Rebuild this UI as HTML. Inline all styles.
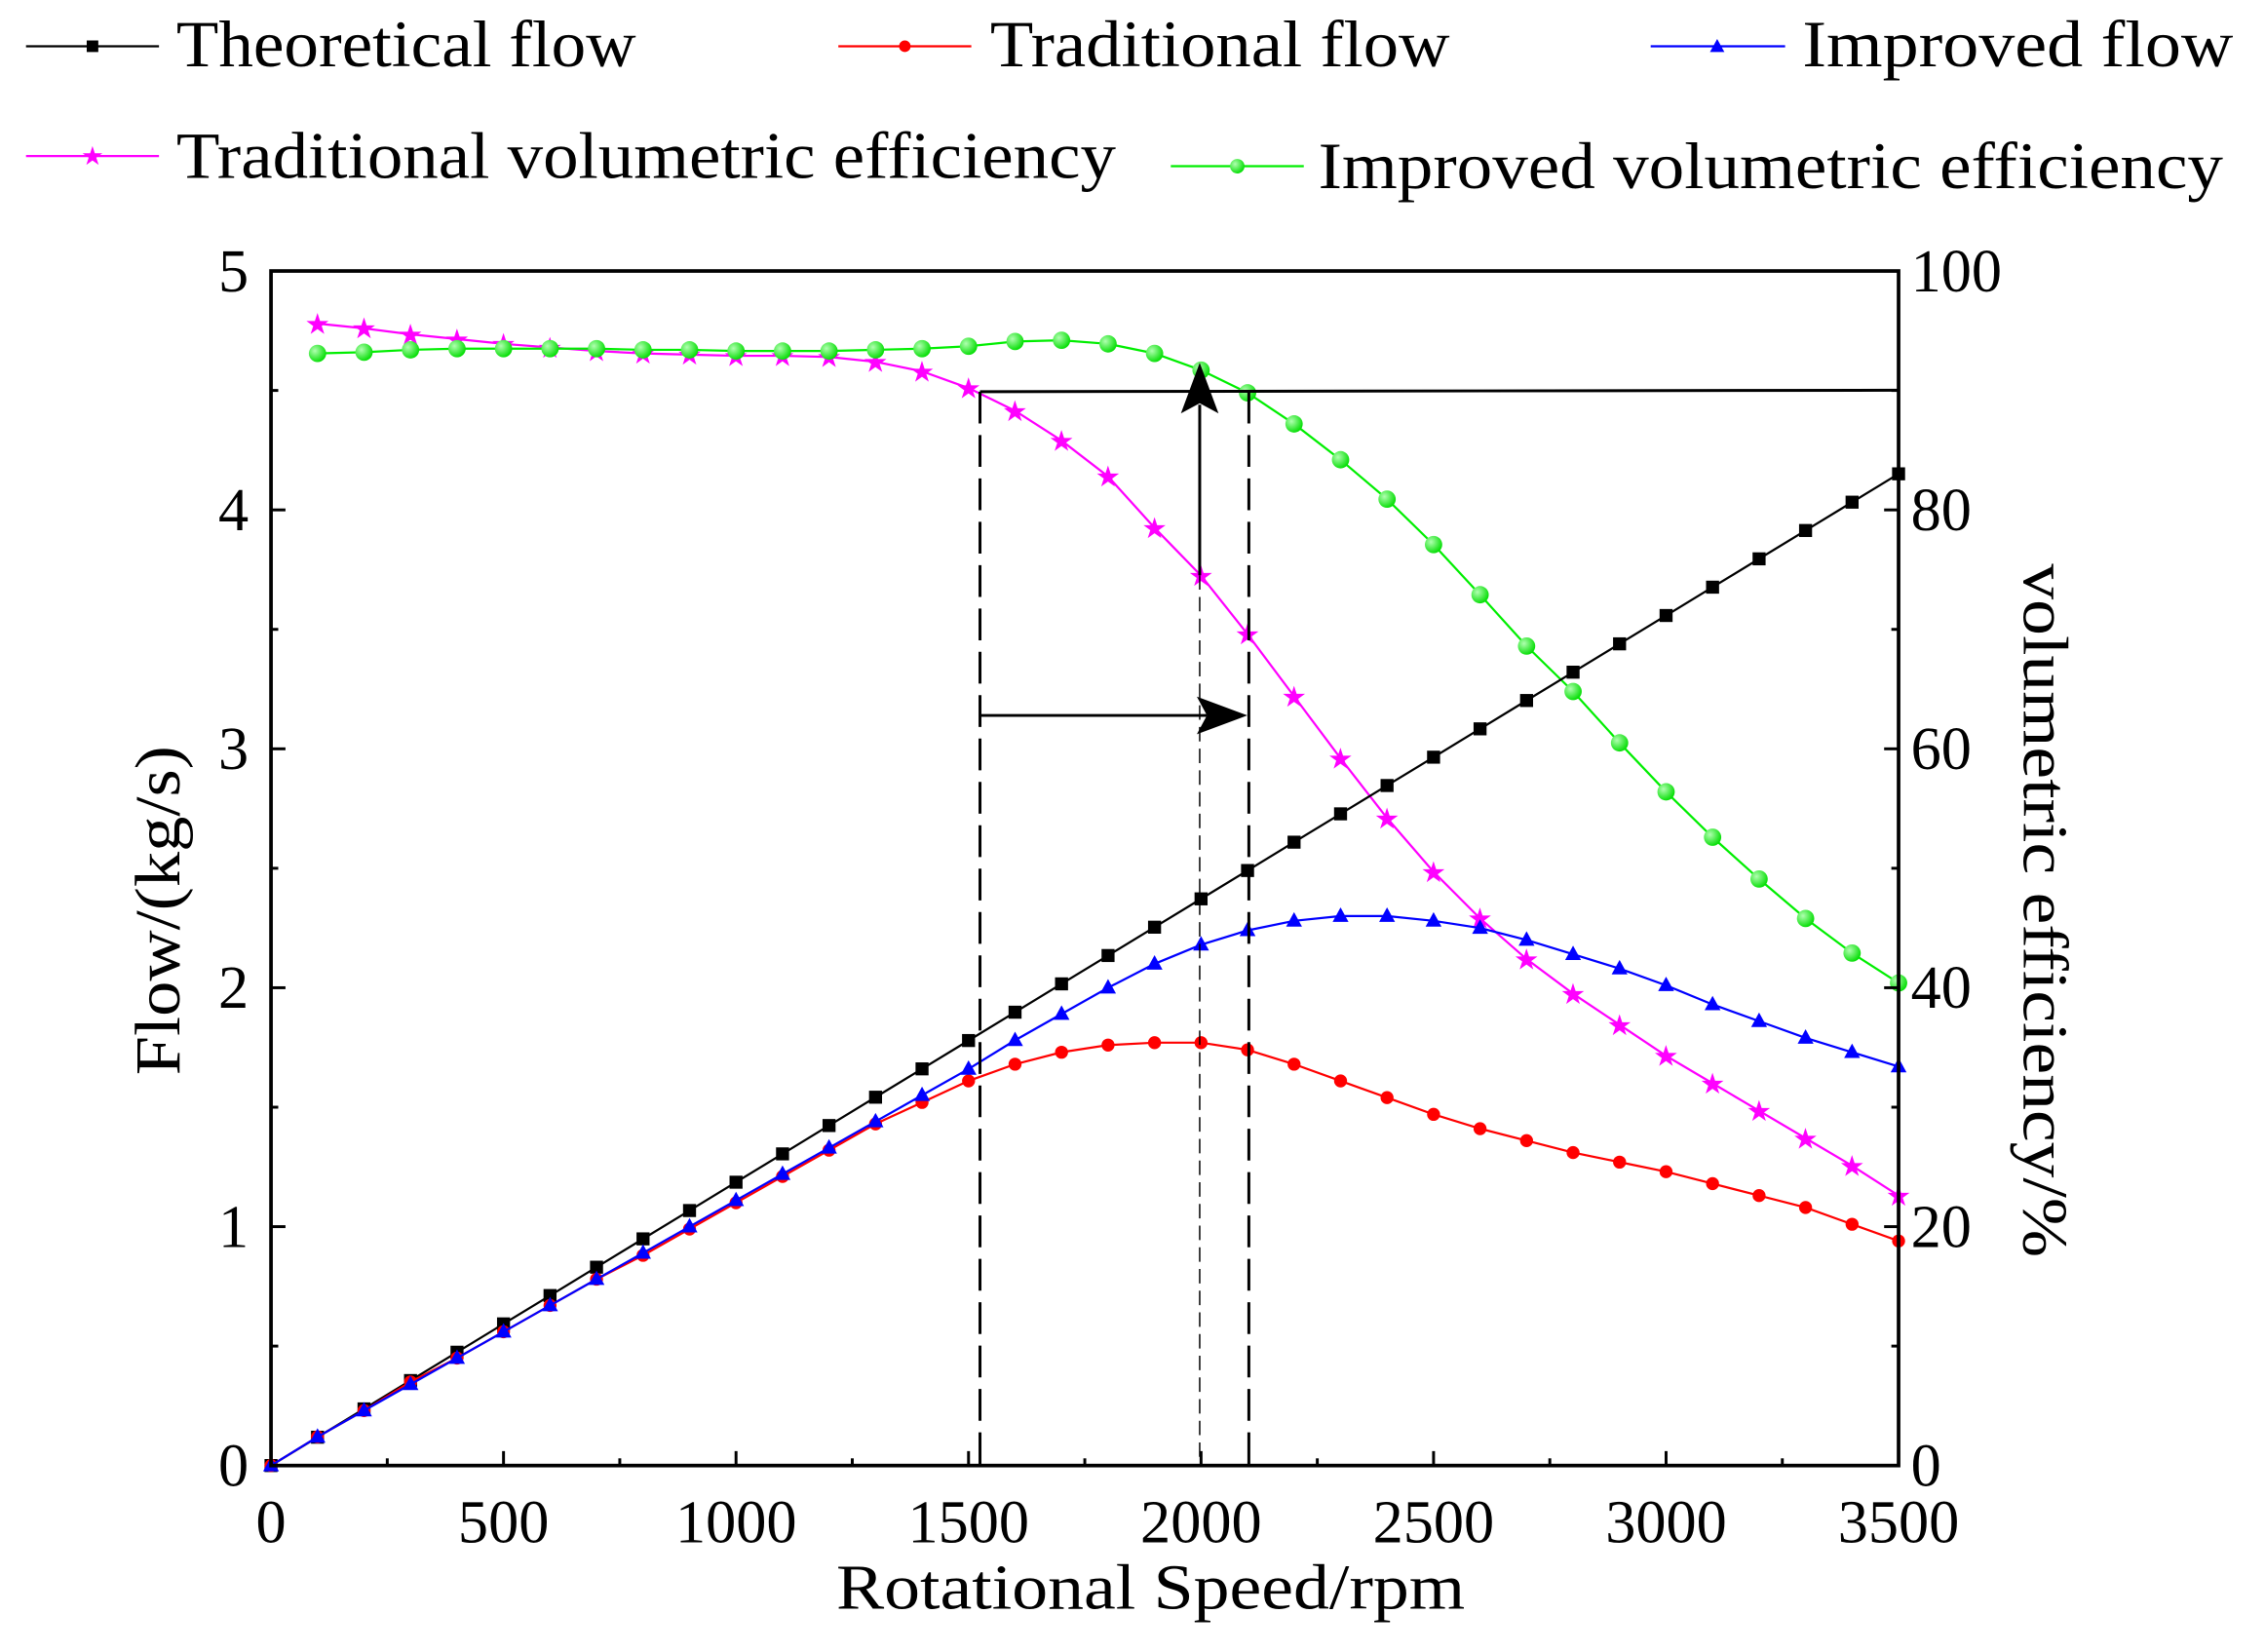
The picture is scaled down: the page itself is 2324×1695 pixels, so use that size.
<!DOCTYPE html>
<html><head><meta charset="utf-8"><style>html,body{margin:0;padding:0;background:#fff}svg{display:block}text{font-family:"Liberation Serif",serif;fill:#000}</style></head>
<body>
<svg id="s" width="2324" height="1695" viewBox="0 0 1567 1143" preserveAspectRatio="none" xmlns="http://www.w3.org/2000/svg">
<defs>
<radialGradient id="g" cx="0.35" cy="0.35" r="0.7"><stop offset="0" stop-color="#b0ffb0"/><stop offset="1" stop-color="#00dd00"/></radialGradient>
</defs>
<g id="plot"></g>
<g stroke-width="1.5">
<line x1="18" y1="32" x2="110" y2="32" stroke="#000"/><rect x="60" y="28" width="8" height="8" fill="#000"/>
<line x1="580" y1="32" x2="672" y2="32" stroke="#f00"/><circle cx="626" cy="32" r="4" fill="#f00"/>
<line x1="1142" y1="32" x2="1235" y2="32" stroke="#00f"/><polygon points="1188,27 1193,36 1183,36" fill="#00f"/>
<line x1="18" y1="108" x2="110" y2="108" stroke="#f0f"/><text x="64" y="114" font-size="18" text-anchor="middle" style="fill:#f0f">★</text>
<line x1="810" y1="115" x2="902" y2="115" stroke="#0e0"/><circle cx="856" cy="115" r="5" fill="url(#g)"/>
</g>
<text x="122" y="46" font-size="46" textLength="318" lengthAdjust="spacingAndGlyphs">Theoretical flow</text>
<text x="685" y="46" font-size="46" textLength="318" lengthAdjust="spacingAndGlyphs">Traditional flow</text>
<text x="1247" y="46" font-size="46" textLength="298" lengthAdjust="spacingAndGlyphs">Improved flow</text>
<text x="122" y="123" font-size="46" textLength="650" lengthAdjust="spacingAndGlyphs">Traditional volumetric efficiency</text>
<text x="912" y="130" font-size="46" textLength="626" lengthAdjust="spacingAndGlyphs">Improved volumetric efficiency</text>
<text x="796" y="1113" font-size="44" text-anchor="middle" textLength="435" lengthAdjust="spacingAndGlyphs">Rotational Speed/rpm</text>
<text transform="translate(124,630) rotate(-90)" font-size="44" text-anchor="middle" textLength="228" lengthAdjust="spacingAndGlyphs">Flow/(kg/s)</text>
<text transform="translate(1400,630) rotate(90)" font-size="44" text-anchor="middle" textLength="480" lengthAdjust="spacingAndGlyphs">volumetric efficiency/%</text>
</svg>
<script>
const NS="http://www.w3.org/2000/svg",P=document.getElementById('plot');
const L=187.5,R=1313.5,T=187.5,B=1014,W=R-L,H=B-T;
const X=r=>L+r/3500*W, YF=f=>B-f/5*H, YE=e=>B-e/100*H;
function el(t,a,txt){const e=document.createElementNS(NS,t);for(const k in a)e.setAttribute(k,a[k]);if(txt!==undefined)e.textContent=txt;P.appendChild(e);return e;}
const rpm=[];for(let i=0;i<=35;i++)rpm.push(i*100);
const theo=rpm.map(r=>r*0.001186);
const trad=[0,.12,.23,.35,.45,.56,.67,.78,.88,.99,1.10,1.21,1.32,1.43,1.52,1.61,1.68,1.73,1.76,1.77,1.77,1.74,1.68,1.61,1.54,1.47,1.41,1.36,1.31,1.27,1.23,1.18,1.13,1.08,1.01,.94];
const imp=[0,.12,.23,.34,.45,.56,.67,.78,.89,1.0,1.11,1.22,1.33,1.44,1.55,1.66,1.78,1.89,2.00,2.10,2.18,2.24,2.28,2.30,2.30,2.28,2.25,2.20,2.14,2.08,2.01,1.93,1.86,1.79,1.73,1.67];
const te=[null,95.6,95.2,94.7,94.3,93.9,93.6,93.3,93.1,93.0,92.9,92.9,92.8,92.4,91.6,90.2,88.3,85.8,82.8,78.5,74.5,69.6,64.4,59.2,54.2,49.7,45.8,42.4,39.5,36.9,34.3,32.0,29.7,27.4,25.1,22.6];
const ie=[null,93.1,93.2,93.4,93.5,93.5,93.5,93.5,93.4,93.4,93.3,93.3,93.3,93.4,93.5,93.7,94.1,94.2,93.9,93.1,91.7,89.8,87.2,84.2,80.9,77.1,72.9,68.6,64.8,60.5,56.4,52.6,49.1,45.8,42.9,40.4];
function series(vals,Y,col,mk){const pts=[];vals.forEach((v,i)=>{if(v!==null)pts.push([X(rpm[i]),Y(v)]);});
 el('polyline',{points:pts.map(p=>p.join(',')).join(' '),fill:'none',stroke:col,'stroke-width':1.5});
 pts.forEach(([x,y])=>{
  if(mk=='sq')el('rect',{x:x-4.5,y:y-4.5,width:9,height:9,fill:col});
  else if(mk=='c')el('circle',{cx:x,cy:y,r:4.5,fill:col});
  else if(mk=='t')el('polygon',{points:`${x},${y-6} ${x+5.5},${y+4} ${x-5.5},${y+4}`,fill:col});
  else if(mk=='st')el('text',{x:x,y:y+7,'font-size':20,'text-anchor':'middle',style:'fill:'+col},'★');
  else if(mk=='g')el('circle',{cx:x,cy:y,r:6,fill:'url(#g)'});
 });}
series(te,YE,'#f0f','st');
series(ie,YE,'#0e0','g');
series(theo,YF,'#000','sq');
series(trad,YF,'#f00','c');
series(imp,YF,'#00f','t');
el('line',{x1:678,y1:271,x2:R,y2:270,stroke:'#000','stroke-width':2});
el('line',{x1:678,y1:271,x2:678,y2:B,stroke:'#000','stroke-width':2,'stroke-dasharray':'22,8'});
el('line',{x1:864,y1:271,x2:864,y2:B,stroke:'#000','stroke-width':2,'stroke-dasharray':'22,8'});
el('line',{x1:830,y1:398,x2:830,y2:B,stroke:'#000','stroke-width':1,'stroke-dasharray':'10,5'});
el('line',{x1:830,y1:398,x2:830,y2:280,stroke:'#000','stroke-width':2});
el('polygon',{points:'830,251 817,286 830,279 843,286',fill:'#000'});
el('line',{x1:678,y1:495,x2:835,y2:495,stroke:'#000','stroke-width':2});
el('polygon',{points:'863,495 828,482 835,495 828,508',fill:'#000'});
el('rect',{x:L,y:T,width:W,height:H,fill:'none',stroke:'#000','stroke-width':2.5});
for(let r=0;r<=3500;r+=250){const x=X(r),m=r%500==0;el('line',{x1:x,y1:B,x2:x,y2:B-(m?10:5),stroke:'#000','stroke-width':2});
 if(m)el('text',{x:x,y:1067,'font-size':42,'text-anchor':'middle'},r);}
for(let f=0;f<=5;f+=0.5){const y=YF(f),m=f%1==0;el('line',{x1:L,y1:y,x2:L+(m?10:5),y2:y,stroke:'#000','stroke-width':2});
 if(m)el('text',{x:172,y:y+14,'font-size':42,'text-anchor':'end'},f);}
for(let e=0;e<=100;e+=10){const y=YE(e),m=e%20==0;el('line',{x1:R,y1:y,x2:R-(m?10:5),y2:y,stroke:'#000','stroke-width':2});
 if(m)el('text',{x:1322,y:y+14,'font-size':42},e);}
</script>
</body></html>
